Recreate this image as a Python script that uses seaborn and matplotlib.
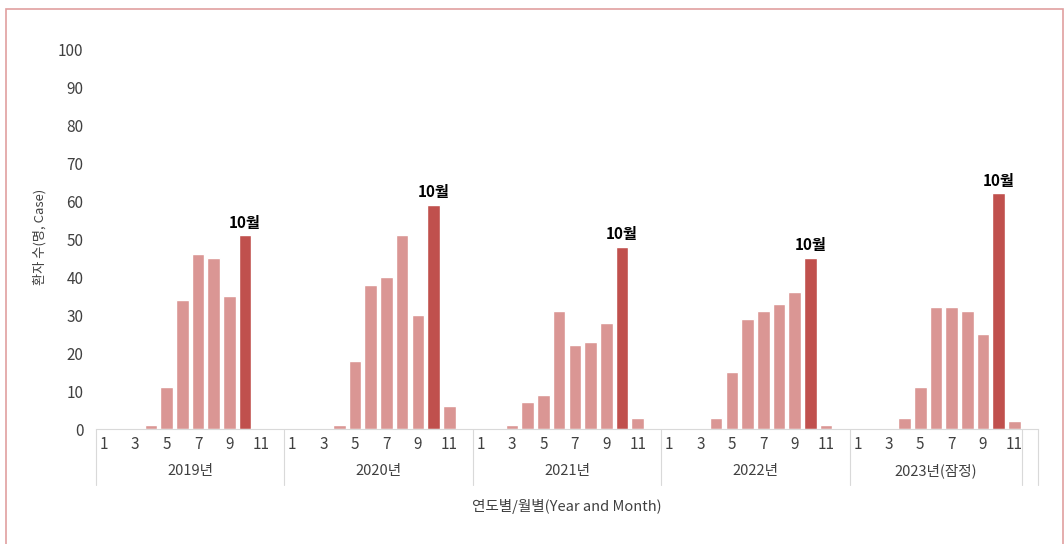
import pandas as pd
import matplotlib.pyplot as plt
import matplotlib.transforms as mtransforms
from matplotlib.patches import Rectangle
import seaborn as sns

# monthly patient counts (1월 ~ 12월), 2023 is provisional up to November
years = ['2019년', '2020년', '2021년', '2022년', '2023년(잠정)']
cases_2019 = [0, 0, 0, 1, 11, 34, 46, 45, 35, 51, 0, 0]
cases_2020 = [0, 0, 0, 1, 18, 38, 40, 51, 30, 59, 6, 0]
cases_2021 = [0, 0, 1, 7, 9, 31, 22, 23, 28, 48, 3, 0]
cases_2022 = [0, 0, 0, 3, 15, 29, 31, 33, 36, 45, 1, 0]
cases_2023 = [0, 0, 0, 3, 11, 32, 32, 31, 25, 62, 2]
month_ticks = [1, 3, 5, 7, 9, 11]
highlight_month = 10
highlight_label = '10월'

all_years = [cases_2019, cases_2020, cases_2021, cases_2022, cases_2023]

rows = []
slot = 0
for y, vals in zip(years, all_years):
    for m, v in enumerate(vals, start=1):
        rows.append({'slot': slot, 'year': y, 'month': m, 'cases': v,
                     'kind': 'oct' if m == highlight_month else 'other'})
        slot += 1
df = pd.DataFrame(rows)
n_slots = 60

sns.set_style('white')
plt.rcParams['font.family'] = ['Noto Sans CJK KR', 'DejaVu Sans']

fig = plt.figure(figsize=(10.64, 5.44), dpi=100)
ax = fig.add_axes([96 / 1064, 115 / 544, 942 / 1064, 380 / 544])

sns.barplot(data=df, x='slot', y='cases', hue='kind', order=list(range(n_slots)),
            palette={'oct': '#C0504D', 'other': '#DA9694'}, dodge=False,
            width=0.8, saturation=1, legend=False, ax=ax)

ax.set_ylim(0, 100)
ax.set_xlim(-0.5, n_slots - 0.5)
ax.set_yticks(range(0, 101, 10))
ax.tick_params(axis='y', length=0, pad=9, labelsize=11, labelcolor='#404040')
ax.set_xticks([])
ax.set_xlabel('')
ax.set_ylabel('')
for s in ['top', 'right', 'left']:
    ax.spines[s].set_visible(False)
ax.spines['bottom'].set_color('#D9D9D9')

# month tick labels and year groups
trans = mtransforms.blended_transform_factory(ax.transData, ax.transAxes)
start = 0
bounds = [0]
for y, vals in zip(years, all_years):
    for m in month_ticks:
        ax.text(start + m - 1, -0.04, str(m), transform=trans, ha='center', va='center',
                fontsize=11, color='#404040')
    ax.text(start + (len(vals) - 1) / 2, -0.11, y, transform=trans, ha='center',
            va='center', fontsize=10.5, color='#404040')
    # 10월 label
    i = start + highlight_month - 1
    ax.text(i, vals[highlight_month - 1] + 1.2, highlight_label, ha='center', va='bottom',
            fontsize=11, fontweight='bold', color='black')
    start += len(vals)
    bounds.append(start)
bounds.append(n_slots)
for b in bounds:
    ax.plot([b - 0.5, b - 0.5], [0, -0.147], transform=trans, color='#D9D9D9',
            lw=0.8, clip_on=False)

ax.text(0.5, -0.203, '연도별/월별(Year and Month)', transform=ax.transAxes,
        ha='center', va='center', fontsize=10.5, color='#404040')
fig.text(40 / 1064, 1 - 237 / 544, '환자 수(명, Case)', rotation=90, ha='center',
         va='center', fontsize=9.5, color='#404040')

# outer frame
fig.patches.append(Rectangle((6 / 1064, -0.1), 1057 / 1064, 1.1 - 9 / 544,
                             transform=fig.transFigure, fill=False,
                             edgecolor='#E0A0A0', lw=1.2))

fig.savefig('out.png', dpi=100)
